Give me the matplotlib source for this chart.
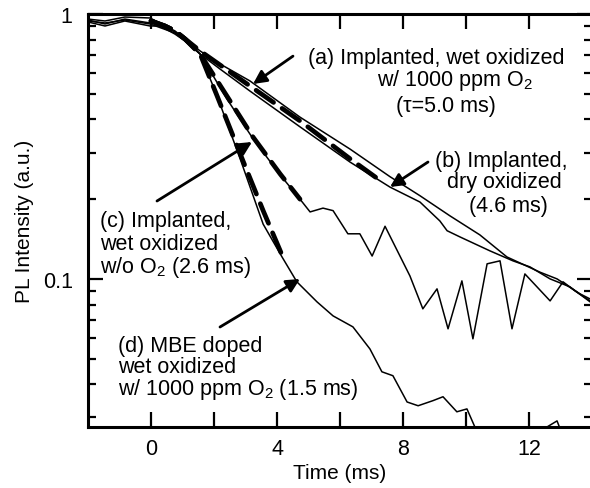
import matplotlib
matplotlib.use("Agg")
import matplotlib.pyplot as plt
from matplotlib.ticker import FixedLocator, NullFormatter, FixedFormatter

plt.rcParams['font.family'] = ['Liberation Sans', 'DejaVu Sans']
plt.rcParams['mathtext.fontset'] = 'custom'
plt.rcParams['mathtext.rm'] = 'Liberation Sans'
plt.rcParams['mathtext.it'] = 'Liberation Sans:italic'

# (b) implanted, dry oxidized - data
t_b = [-2.0, -1.46, -0.83, -0.03, 0.29, 0.76, 1.08, 1.56, 2.19, 3.14, 4.73, 6.32,
       7.59, 8.54, 9.49, 10.44, 11.30, 12.35, 12.89, 13.62, 13.94]
pl_b = [0.949, 0.917, 0.957, 0.925, 0.917, 0.855, 0.805, 0.725, 0.648, 0.559, 0.408, 0.309,
        0.243, 0.206, 0.173, 0.1466, 0.121, 0.106, 0.100, 0.0878, 0.0840]

# (a) implanted, wet oxidized w/ 1000 ppm O2 - data
t_a = [-2.0, -1.46, -0.83, -0.03, 0.29, 0.76, 1.08, 1.56, 2.19, 3.14, 4.73, 6.32,
       7.59, 8.54, 9.17, 9.40, 9.81, 10.76, 11.49, 12.03, 12.67, 13.30, 13.94]
pl_a = [0.933, 0.901, 0.941, 0.901, 0.901, 0.840, 0.791, 0.706, 0.620, 0.512, 0.375, 0.276,
        0.222, 0.195, 0.1655, 0.152, 0.144, 0.1276, 0.117, 0.111, 0.100, 0.0933, 0.0819]

# (c) implanted, wet oxidized w/o O2 - data
t_c = [-2.0, -1.46, -0.83, -0.03, 0.76, 1.08, 1.56, 2.41, 3.24, 4.10, 4.73, 5.05, 5.46,
       5.78, 6.25, 6.63, 7.02, 7.43, 8.22, 8.63, 9.08, 9.43, 9.87, 10.22, 10.67, 11.08,
       11.46, 11.87, 12.67, 13.08, 13.46, 13.94]
pl_c = [0.957, 0.941, 0.974, 0.966, 0.863, 0.805, 0.706, 0.478, 0.338, 0.247, 0.200, 0.179, 0.185,
        0.181, 0.148, 0.148, 0.122, 0.158, 0.1026, 0.0771, 0.0917, 0.0648, 0.0983, 0.0594, 0.114, 0.117,
        0.0648, 0.1044, 0.0826, 0.0975, 0.0901, 0.0826]

# (d) MBE doped, wet oxidized w/ 1000 ppm O2 - data
t_d = [-2.0, -1.46, -0.83, -0.03, 0.76, 1.08, 1.56, 2.10, 2.83, 3.56, 4.16, 4.63, 5.27,
       5.78, 6.41, 6.95, 7.33, 7.68, 8.13, 8.48, 8.95, 9.27, 9.71, 10.03, 10.44, 11.71,
       12.57, 12.89, 13.05, 13.94]
pl_d = [0.941, 0.925, 0.949, 0.917, 0.848, 0.798, 0.706, 0.490, 0.284, 0.161, 0.121, 0.0975, 0.0819,
        0.0725, 0.0659, 0.0544, 0.0446, 0.0431, 0.0343, 0.0332, 0.0347, 0.0359, 0.0315, 0.0323, 0.025, 0.024,
        0.0276, 0.0291, 0.026, 0.024]

# fits (thick dashed)
t_fit_a = [0.0, 0.44, 0.76, 1.08, 1.56, 3.14, 4.73, 6.32, 7.30]
pl_fit_a = [0.941, 0.901, 0.863, 0.805, 0.725, 0.535, 0.395, 0.284, 0.234]
t_fit_c = [0.0, 0.44, 0.76, 1.08, 1.56, 2.41, 3.24, 4.10, 4.73]
pl_fit_c = [0.941, 0.901, 0.863, 0.805, 0.706, 0.490, 0.343, 0.249, 0.200]
t_fit_d = [0.0, 0.44, 0.76, 1.08, 1.56, 2.10, 2.92, 3.56, 4.16]
pl_fit_d = [0.941, 0.901, 0.863, 0.805, 0.706, 0.490, 0.279, 0.181, 0.123]

fig = plt.figure(figsize=(5.9, 4.89), dpi=100)
ax = fig.add_axes([88 / 590, 1 - 428 / 489, 504 / 590, 413 / 489])

for t, pl in [(t_b, pl_b), (t_a, pl_a), (t_c, pl_c), (t_d, pl_d)]:
    ax.plot(t, pl, color='black', lw=1.1)
for t, pl in [(t_fit_a, pl_fit_a), (t_fit_c, pl_fit_c), (t_fit_d, pl_fit_d)]:
    ax.plot(t, pl, color='black', lw=3.4, linestyle=(0, (4.5, 2.2)), dash_capstyle='round')

ax.set_yscale('log')
ax.set_xlim(-2, 14)
ax.set_ylim(0.0276, 1.0)

ax.xaxis.set_major_locator(FixedLocator([0, 4, 8, 12]))
ax.xaxis.set_minor_locator(FixedLocator([2, 6, 10]))
ax.yaxis.set_major_locator(FixedLocator([0.1, 1]))
ax.yaxis.set_major_formatter(FixedFormatter(['0.1', '1']))
ax.yaxis.set_minor_locator(FixedLocator([0.03, 0.04, 0.05, 0.06, 0.07, 0.08, 0.09,
                                         0.2, 0.3, 0.4, 0.5, 0.6, 0.7, 0.8, 0.9]))
ax.yaxis.set_minor_formatter(NullFormatter())
ax.tick_params(which='both', direction='in', top=True, right=True, width=1.6, labelsize=15.5)
ax.tick_params(axis='x', which='both', length=10.5, pad=8)
ax.tick_params(axis='y', which='major', length=10.5, pad=11)
ax.tick_params(axis='y', which='minor', length=6)
for s in ax.spines.values():
    s.set_linewidth(2.2)

ax.set_xlabel('Time (ms)', fontsize=15, labelpad=3)
ax.set_ylabel('PL Intensity (a.u.)', fontsize=15, labelpad=6)

fs = 15.5
tr = ax.transAxes
ax.text(0.690, 0.881, '(a) Implanted, wet oxidized', transform=tr, ha='center', va='baseline', fontsize=fs)
ax.text(0.728, 0.828, 'w/ 1000 ppm O$_2$', transform=tr, ha='center', va='baseline', fontsize=fs)
ax.text(0.710, 0.765, '(τ=5.0 ms)', transform=tr, ha='center', va='baseline', fontsize=fs)

ax.text(0.819, 0.632, '(b) Implanted,', transform=tr, ha='center', va='baseline', fontsize=fs)
ax.text(0.827, 0.581, 'dry oxidized', transform=tr, ha='center', va='baseline', fontsize=fs)
ax.text(0.835, 0.523, '(4.6 ms)', transform=tr, ha='center', va='baseline', fontsize=fs)

ax.text(0.024, 0.487, '(c) Implanted,', transform=tr, ha='left', va='baseline', fontsize=fs)
ax.text(0.024, 0.431, 'wet oxidized', transform=tr, ha='left', va='baseline', fontsize=fs)
ax.text(0.024, 0.375, 'w/o O$_2$ (2.6 ms)', transform=tr, ha='left', va='baseline', fontsize=fs)

ax.text(0.0595, 0.184, '(d) MBE doped', transform=tr, ha='left', va='baseline', fontsize=fs)
ax.text(0.0595, 0.133, 'wet oxidized', transform=tr, ha='left', va='baseline', fontsize=fs)
ax.text(0.0595, 0.080, 'w/ 1000 ppm O$_2$ (1.5 ms)', transform=tr, ha='left', va='baseline', fontsize=fs)

arrow = dict(arrowstyle='-|>', lw=2.0, color='black', mutation_scale=20, shrinkA=0, shrinkB=0)
for tip, tail in [((0.3274, 0.8305), (0.4067, 0.898)),
                  ((0.5992, 0.5811), (0.6746, 0.6416)),
                  ((0.3254, 0.6901), (0.1369, 0.5472)),
                  ((0.4206, 0.3584), (0.2619, 0.2421))]:
    ax.annotate('', xy=tip, xytext=tail, xycoords=tr, textcoords=tr, arrowprops=arrow)

fig.savefig('out.png', dpi=100)
